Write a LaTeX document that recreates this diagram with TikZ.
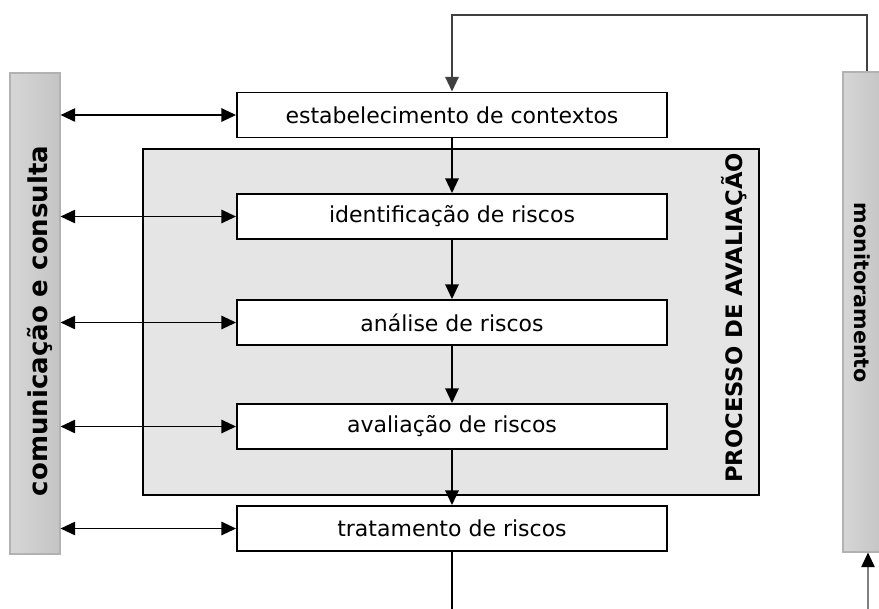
\documentclass[tikz,border=0pt]{standalone}
\usepackage{fontspec}
\setmainfont{DejaVu Sans}
\usetikzlibrary{arrows.meta}

\tikzset{
  stage/.style={draw, fill=white, minimum width=322.5pt, minimum height=33.75pt, inner sep=0pt, font=\fontsize{16.5}{20}\selectfont},
  sidebar/.style={draw=gray!60, line width=0.8pt, left color=gray!32, right color=gray!46, inner sep=0pt},
  sidetext/.style={font=\bfseries\fontsize{#1}{22}\selectfont}
}

\begin{document}
\begin{tikzpicture}[x=0.75pt, y=-0.75pt, line width=1.4pt, >={Triangle[length=11pt,width=10pt]}]

    \useasboundingbox (0,0) rectangle (879,608);

    \node (proc) [draw, fill=gray!20, minimum width=462pt, minimum height=259.5pt] at (451,322) {};
    \node (proclbl) [rotate=90, sidetext=17] at (734,318) {PROCESSO DE AVALIAÇÃO};

    \node (com) [sidebar, minimum width=37.5pt, minimum height=360.75pt] at (35,313.5) {};
    \node (comlbl) [rotate=90, sidetext=19.5] at (40,321) {comunicação e consulta};
    \node (mon) [sidebar, minimum width=30pt, minimum height=360pt] at (863,312) {};
    \node (monlbl) [rotate=-90, sidetext=15.5] at (862,293) {monitoramento};

    \node (ctx) [stage] at (452,115) {estabelecimento de contextos};
    \node (ident) [stage] at (452,216.5) {identificação de riscos};
    \node (anal) [stage] at (452,322.5) {análise de riscos};
    \node (aval) [stage] at (452,426.5) {avaliação de riscos};
    \node (trat) [stage] at (452,528.5) {tratamento de riscos};

    \foreach \s in {ctx,ident,anal,aval,trat}
    \draw[<->] (com.east |- \s.west) -- (\s.west);

    \draw[->] (ctx) -- (ident);
    \draw[->] (ident) -- (anal);
    \draw[->] (anal) -- (aval);
    \draw[->] (aval) -- (trat);

    \coordinate (out) at (452,615);
    \coordinate (in) at (868,615);
    \coordinate (fb) at (867,15);
    \draw (trat) -- (out);
    \draw[-{Triangle[length=11pt,width=10pt,color=black]}, gray] (in) -- (in |- mon.south);
    \draw[->, gray!50!black] (mon.north -| fb) -- (fb) -| (ctx.north);

\end{tikzpicture}
\end{document}
